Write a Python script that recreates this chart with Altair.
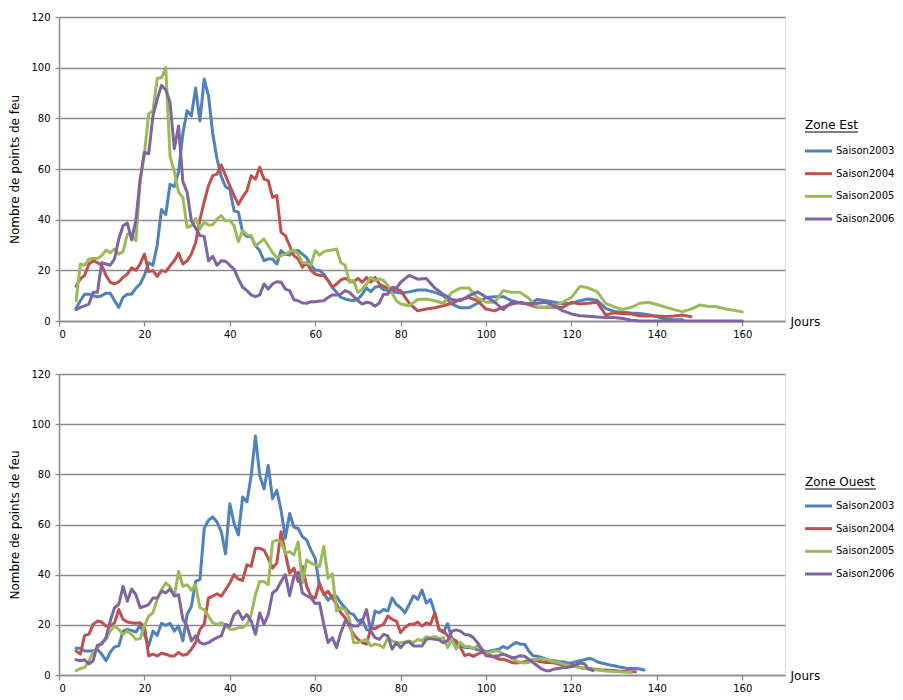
import altair as alt
import pandas as pd

series_names = ["Saison2003", "Saison2004", "Saison2005", "Saison2006"]
colors = ["#4F81BD", "#C0504D", "#9BBB59", "#8064A2"]
x_ticks = [0, 20, 40, 60, 80, 100, 120, 140, 160]
y_ticks = [0, 20, 40, 60, 80, 100, 120]

# ---------------- Zone Est : daily values from day 4 to day 80 ----------------
est_2003_head = [5, 8, 10.6, 10.6, 10, 9.6, 10, 11, 11, 8,
                 5.4, 9.3, 10.6, 10.6, 13, 14.6, 18, 23, 22, 30,
                 44, 42, 54, 53, 59, 74, 83, 81, 92, 79,
                 95.5, 89, 74, 64, 57, 53, 52, 43.5, 43, 35,
                 33.4, 33.4, 29.7, 27.8, 23.8, 24.5, 24.5, 22.5, 27.8, 26.4,
                 26, 27.5, 27.8, 26.4, 25, 22, 20, 20, 18.5, 16,
                 13.3, 11.3, 9.3, 8.7, 8.3, 8, 8.7, 10.6, 13, 11.6,
                 13.3, 13.7, 12.4, 12, 11.3, 11.3, 11]
est_2004_head = [13.7, 16.6, 18, 22.5, 23.8, 23, 22, 18, 15.3, 14.6,
                 15.5, 17.2, 18.5, 21, 20, 22.5, 26.4, 19.5, 19.9, 17.6,
                 19.9, 19.5, 21.8, 23.8, 26.8, 22.5, 23.8, 26.4, 31, 40,
                 47, 53.4, 57.4, 58, 61.6, 57.4, 53.4, 49.5, 46, 49,
                 51.4, 57.4, 56, 60.7, 56, 55.4, 48.8, 49.5, 35, 33.7,
                 29.7, 25.8, 24.5, 21.2, 23, 20, 18.5, 18, 18, 16,
                 13.3, 14.6, 16.2, 16.8, 16, 15.5, 16.8, 15.3, 17.2, 15.3,
                 17.2, 14.6, 13.7, 12.9, 12, 12.6, 12]
est_2005_head = [8, 22.5, 22, 24.5, 24.7, 24.7, 25.8, 28, 27, 28.4,
                 26.4, 27.4, 34.3, 34.3, 31.7, 55, 66, 81.7, 83, 95.8,
                 96, 100, 65, 59, 50.8, 48.8, 37, 37.6, 40.5, 36.3,
                 39, 37.9, 38, 40.3, 41.6, 39.6, 39.6, 37.6, 31.3, 35.7,
                 34, 33.7, 29.7, 31, 32.4, 29.7, 27, 25, 25.8, 26.4,
                 27.4, 28, 26.4, 23, 23, 22, 27.8, 26, 27.4, 27.8,
                 28, 28.4, 23, 22, 15.3, 16, 11.3, 12.6, 14.6, 17.2,
                 16, 16.6, 16, 14, 11, 8, 6.7]
est_2006_head = [4.5, 5.4, 6, 6.7, 11.3, 11.3, 23, 22.5, 22, 24.5,
                 32.4, 37.6, 38.7, 32, 39.6, 56, 66.6, 66, 81, 87.6,
                 93, 91.3, 86.3, 68, 77, 55, 50.8, 39.6, 36.6, 33.7,
                 33.4, 23.8, 25.5, 22, 23.8, 23.6, 22, 20.5, 16.6, 13.3,
                 12, 10.3, 9.6, 10.3, 14.6, 12.6, 14.6, 15.5, 15.3, 12.6,
                 12, 8.4, 8, 7.1, 7, 7.6, 7.6, 7.9, 8, 9.3,
                 10.3, 10.3, 10.6, 12, 11.3, 9.7, 8, 6.7, 7.4, 7.1,
                 5.8, 7.1, 10.6, 10.6, 13.3, 13, 15.3]

# ---------------- Zone Est : every second day from day 82 ----------------
est_2003_tail = [11.5, 12.2, 12.2, 11.3, 10, 6.7, 5.2, 5.2, 7, 9.3,
                 9.6, 9.6, 8, 7.1, 6.7, 8.5, 8, 7.4, 6.8, 7,
                 8, 8.7, 8.2, 5, 3.8, 3.5, 3.2, 3, 2.5, 1.8,
                 0.8, 0.5, 0.5]
est_2004_tail = [7, 4, 4.7, 5.2, 6, 7, 8.5, 9.3, 8, 4.7,
                 4, 5.5, 6.7, 7.4, 6.5, 5.4, 5.4, 5.4, 5.4, 7.4,
                 6.7, 7, 7.4, 2.4, 3.2, 3, 2.8, 2, 2, 2,
                 1.8, 2, 2.4, 1.7]
est_2005_tail = [6, 8.5, 8.7, 8, 7, 11.3, 13, 13, 9, 7.4,
                 7.4, 12, 11.3, 11.3, 9, 5.4, 5.4, 6, 7.5, 9.3,
                 13.7, 13, 11.6, 7, 5.6, 4.5, 5.4, 7, 7.4, 6.5,
                 5.5, 4.5, 3.7, 4.7, 6.3, 5.8, 5.6, 4.8, 4.2, 3.6]
est_2006_tail = [18, 16.5, 16.8, 13, 10.5, 8.5, 8, 10, 11.5, 9.5,
                 7.5, 4.5, 7.4, 7.1, 6.8, 7, 7.4, 6, 4, 2.8,
                 2.1, 1.9, 1.6, 1.4, 1.4, 1, 0.3, 0, 0, 0,
                 0, 0, 0, 0, 0, 0, 0, 0, 0, 0]

# ---------------- Zone Ouest : daily values from day 4 ----------------
ouest_2003 = [10.7, 10.7, 9.6, 9.6, 9.6, 10.3, 8.3, 5.7, 9, 11.2,
              11.6, 17.5, 18.2, 17.8, 17.1, 19.8, 16.2, 11.6, 17.5, 15.8,
              20.6, 19.8, 20.6, 17.5, 19.5, 13.6, 24.1, 27.4, 37.3, 38,
              58.4, 61.7, 63, 61, 57.1, 48.3, 68.3, 60.4, 55.8, 71,
              69, 79.5, 95.3, 79.5, 74.2, 83.5, 70.3, 73.6, 65.7, 54.5,
              64.4, 59, 58.4, 55.1, 53.8, 49.8, 46.5, 35.3, 32.7, 29.8,
              31.6, 31.4, 28.7, 26.8, 24.8, 24.1, 21.5, 22.2, 18.2, 17.5,
              25.5, 24.8, 26.1, 25.5, 30.7, 28.1, 26.8, 24.8, 28.1, 31.6,
              30.1, 33.8, 28.7, 30.1, 24.8, 18, 17, 20.5,
              14.2, 12.3, 11.4, 11, 11, 10.6, 10, 10, 9.2, 9.6,
              10, 10.3, 11.4, 10.6, 11.9, 13, 12.3, 12.3, 9.6, 7.7,
              7.5, 7, 6.3, 5.7, 5.7, 5.3, 5.3, 4.8, 4.8, 5.3,
              5.7, 6.1, 6.6, 6.3, 5.3, 4.8, 4.4, 4, 3.7, 3.3,
              3, 2.6, 2.6, 2.6, 2.4, 2]
ouest_2004 = [9.6, 8.3, 15.8, 16.2, 20.2, 21.5, 21.1, 19.5, 19.5, 20.8,
              26.1, 22.2, 21.1, 20.8, 20.6, 20.8, 19.5, 7.6, 8.3, 7.6,
              8.7, 8.3, 7.6, 7.6, 9, 7.9, 8.3, 10.3, 12.9, 18.2,
              20.2, 30.7, 31.4, 32.4, 31.4, 34, 36.7, 40, 38.2, 37.7,
              43.9, 43.3, 50.5, 50.5, 49.8, 46.5, 42.6, 44.6, 57.1, 48.5,
              40.6, 42.6, 37.3, 43.3, 35.3, 31.4, 30.7, 36.7, 32, 33.4,
              30.7, 28.1, 24.8, 22.8, 19.5, 16.2, 14.2, 12.9, 12.3, 18.5,
              18.5, 19.5, 20.2, 23.5, 22.2, 21.5, 16.9, 18.9, 20.2, 20.2,
              21.1, 19.5, 20.8, 20.2, 24.8, 18.2, 17.5, 15.6,
              14.5, 13.6, 11, 7.7, 8.3, 7.4, 8.3, 9, 9.2, 7.7,
              7, 6.3, 6.3, 5.7, 5, 4.8, 5, 5.3, 5.7, 6.1,
              5.7, 5.3, 5, 5, 4.8, 4.4, 4, 3.7, 4, 3.5,
              3, 2.6, 2.6, 2.4, 2.2, 2, 2, 1.8, 1.8, 1.6,
              1.5, 1.4, 1.3, 1.3]
ouest_2005 = [1.7, 2.6, 3, 5.7, 9, 10.9, 12.9, 14.2, 17.5, 19.5,
              18.2, 16.2, 17.5, 16.2, 14.2, 14.5, 19.5, 23.5, 24.8, 30.1,
              34, 36.7, 35.1, 31.4, 41.3, 35.3, 36, 33.8, 36, 26.8,
              26.1, 23.5, 20.8, 20.2, 20.8, 19.8, 18.2, 18.2, 18.9, 18.9,
              20.2, 24.1, 32, 37.3, 37.3, 36, 53.1, 53.8, 53.1, 48.5,
              49.2, 47.9, 53.1, 36.7, 45.9, 44.6, 43.9, 43.3, 51.2, 38.6,
              40.4, 25.5, 26.8, 26.1, 22.2, 12.9, 12.9, 13.6, 14.2, 11.6,
              12.3, 12, 10.9, 14.9, 13.6, 12.9, 12.9, 13.2, 13.6, 12.9,
              14.2, 13.6, 15.3, 14.9, 15.3, 14.5, 14.9, 10.9,
              14.2, 10.3, 13, 11.4, 11.4, 10.6, 11.6, 10.3, 8.7, 9,
              9.6, 9.6, 8.3, 7.7, 6.6, 5.7, 5, 4.8, 5, 5.7,
              6.3, 6.6, 6.3, 5.7, 5.3, 5, 4.4, 4, 3.4, 3.4,
              3, 2.6, 2.4, 2.2, 2, 1.8, 1.6, 1.5, 1.4, 1.3,
              1.2, 1.1, 1.1]
ouest_2006 = [6.1, 5.7, 6.1, 4.4, 5.7, 11.9, 12.3, 14.9, 21.5, 26.8,
              28.1, 35.3, 29.4, 34.3, 32, 26.8, 27.4, 28.1, 30.7, 30.7,
              33.4, 32.7, 34.3, 31.6, 32, 22.2, 19.5, 13.6, 15.6, 12.9,
              12.3, 12.9, 14, 14.9, 15.6, 20.2, 19.5, 24.1, 25.5, 22.2,
              24.1, 21.5, 16.2, 24.8, 20.2, 24.1, 32.7, 34, 37.3, 40,
              31.6, 39.3, 40.9, 32.7, 31.6, 30.7, 28.5, 28.7, 20.2, 12.9,
              14.9, 10.9, 16.9, 21.5, 20.2, 19.5, 19.5, 21.5, 26.1, 17.5,
              14.9, 14.2, 16.2, 15.6, 10.3, 12.9, 10.9, 12.9, 13.2, 11.6,
              11.6, 11.6, 14.2, 14.5, 14.2, 14, 12.9, 13.6,
              17.5, 18, 17.5, 16.2, 16, 14.9, 12.9, 10.3, 7.7, 7.5,
              7.5, 7.7, 8.3, 7.7, 7, 7, 7.7, 7.5, 6.3, 5,
              3.7, 2.4, 1.7, 1.7, 2.4, 2.6, 3, 3, 3.4, 4,
              4.8, 4.5, 2.4, 1.7]

est_heads = [est_2003_head, est_2004_head, est_2005_head, est_2006_head]
est_tails = [est_2003_tail, est_2004_tail, est_2005_tail, est_2006_tail]
ouest_all = [ouest_2003, ouest_2004, ouest_2005, ouest_2006]

rows_est = []
for name, head, tail in zip(series_names, est_heads, est_tails):
    for i, v in enumerate(head):
        rows_est.append({"day": 4 + i, "value": v, "series": name})
    for i, v in enumerate(tail):
        rows_est.append({"day": 82 + 2 * i, "value": v, "series": name})
df_est = pd.DataFrame(rows_est)

rows_ouest = []
for name, vals in zip(series_names, ouest_all):
    for i, v in enumerate(vals):
        rows_ouest.append({"day": 4 + i, "value": v, "series": name})
df_ouest = pd.DataFrame(rows_ouest)

legend_df = pd.DataFrame({"series": series_names, "pos": [0, 1, 2, 3]})

W = 726
FONT = "DejaVu Sans"
GRID = "#8C8C8C"
LEG_X = 746
color_scale = alt.Scale(domain=series_names, range=colors)


def panel(df, zone_title, underline_len, h, leg_top):
    lines = alt.Chart(df).mark_line(
        strokeWidth=3, strokeJoin="round", strokeCap="round"
    ).encode(
        x=alt.X("day:Q",
                scale=alt.Scale(domain=[0, 170], nice=False, zero=False),
                axis=alt.Axis(values=x_ticks, title="Jours", titleX=W + 5, titleY=0,
                              titleAlign="left", titleBaseline="middle",
                              titleFontSize=12, titleFontWeight="normal",
                              labelFontSize=10, tickSize=5, labelPadding=3,
                              grid=False, domainColor=GRID, domainWidth=1.5,
                              tickColor=GRID, tickWidth=1.3)),
        y=alt.Y("value:Q",
                scale=alt.Scale(domain=[0, 120], nice=False),
                axis=alt.Axis(values=y_ticks, title="Nombre de points de feu",
                              titleFontSize=12, titleFontWeight="normal", titlePadding=9,
                              labelFontSize=10, tickSize=4, labelPadding=5,
                              grid=True, gridColor=GRID, gridWidth=1.5,
                              domainColor=GRID, domainWidth=1.5,
                              tickColor=GRID, tickWidth=1.3)),
        color=alt.Color("series:N", scale=color_scale, legend=None),
    )
    leg_y = alt.Y("pos:Q", scale=alt.Scale(domain=[0, 3], range=[leg_top, leg_top + 68]),
                  axis=None)
    leg_lines = alt.Chart(legend_df).mark_rule(strokeWidth=3).encode(
        x=alt.value(LEG_X), x2=alt.value(LEG_X + 27), y=leg_y,
        color=alt.Color("series:N", scale=color_scale, legend=None),
    )
    leg_text = alt.Chart(legend_df).mark_text(
        align="left", baseline="middle", fontSize=10, font=FONT, color="#000000"
    ).encode(x=alt.value(LEG_X + 31), y=leg_y, text="series:N")
    leg_title = alt.Chart(pd.DataFrame({"t": [zone_title]})).mark_text(
        align="left", baseline="middle", fontSize=12, font=FONT, color="#000000"
    ).encode(x=alt.value(LEG_X), y=alt.value(108), text="t:N")
    underline = alt.Chart(pd.DataFrame({"k": [0]})).mark_rule(
        color="#000000", strokeWidth=1
    ).encode(x=alt.value(LEG_X), x2=alt.value(LEG_X + underline_len), y=alt.value(115))
    return alt.layer(lines, leg_lines, leg_text, leg_title, underline).resolve_scale(
        y="independent"
    ).properties(width=W, height=h)


top = panel(df_est, "Zone Est", 53, 304, 134)
bottom = panel(df_ouest, "Zone Ouest", 71, 301, 132)

chart = alt.vconcat(top, bottom, spacing=28).properties(
    padding={"left": 0, "top": 3, "right": 0, "bottom": 0}
).configure_view(stroke=None).configure(
    font=FONT
).configure_axis(
    labelFont=FONT, titleFont=FONT, labelColor="#000000", titleColor="#000000"
)

chart.save("out.html", embed_options={"renderer": "svg", "actions": False})
